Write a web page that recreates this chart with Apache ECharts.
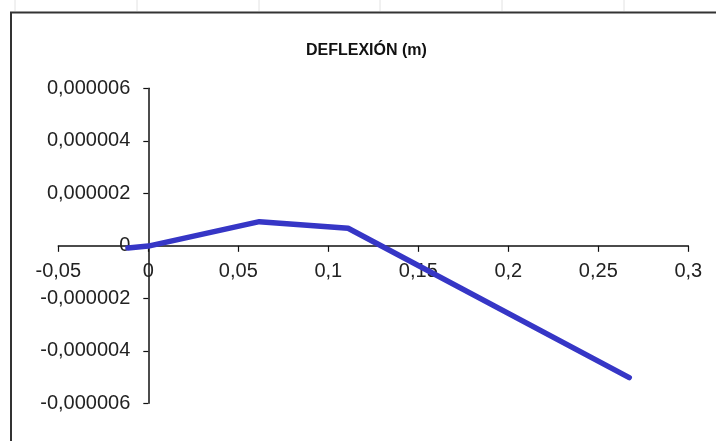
<!DOCTYPE html>
<html>
<head>
<meta charset="utf-8">
<style>
  html, body { margin: 0; padding: 0; background: #fff; }
  #chart { width: 716px; height: 441px; }
</style>
<script src="https://cdn.jsdelivr.net/npm/echarts@6/dist/echarts.min.js"></script>
</head>
<body>
<div id="chart"></div>
<script>
// Beam position (m) and deflection (m)
const positions = [-0.0113, 0, 0.0617, 0.111, 0.2672];
const deflections = [-0.00000008, -0.00000001, 0.00000092, 0.00000067, -0.00000502];

const xTicks = { min: -0.05, max: 0.3, step: 0.05 };
const yTicks = { min: -0.000006, max: 0.000006, step: 0.000002 };
const titleText = 'DEFLEXIÓN (m)';

const font = "'Liberation Sans', Arial, sans-serif";
const W = 716, H = 441;
const grid = { left: 58.3, right: 27.7, top: 88.3, bottom: 37.7 };

// the axes cross at zero: shift each axis in from the grid edge to its zero position
const plotW = W - grid.left - grid.right;
const plotH = H - grid.top - grid.bottom;
const xAxisShift = -plotH * (0 - yTicks.min) / (yTicks.max - yTicks.min);
const yAxisShift = -plotW * (0 - xTicks.min) / (xTicks.max - xTicks.min);

const chart = echarts.init(document.getElementById('chart'), null, { renderer: 'canvas' });

function commaNum(v, digits) {
  if (Math.abs(v) < 1e-12) return '0';
  return String(parseFloat(v.toFixed(digits))).replace('.', ',');
}
function commaFixed(v, digits) {
  if (Math.abs(v) < 1e-12) return '0';
  return v.toFixed(digits).replace('.', ',');
}

// faint spreadsheet column marks above the chart frame
const colMarks = [15, 137, 259, 380, 502, 624].map(x => ({
  type: 'line',
  shape: { x1: x, y1: 0, x2: x, y2: 11 },
  style: { stroke: '#e2e2e2', lineWidth: 1 },
  silent: true
}));

chart.setOption({
  backgroundColor: '#ffffff',
  animation: false,
  title: {
    text: titleText,
    left: 306,
    top: 43,
    padding: 0,
    textStyle: { fontFamily: font, fontSize: 16, fontWeight: 'bold', color: '#111' }
  },
  graphic: [
    {
      type: 'rect',
      shape: { x: 11, y: 12.5, width: 740, height: 460 },
      style: { fill: 'none', stroke: '#333333', lineWidth: 2 },
      silent: true
    }
  ].concat(colMarks),
  grid: {
    left: grid.left, right: grid.right, top: grid.top, bottom: grid.bottom,
    containLabel: false,
    outerBoundsMode: 'none'
  },
  xAxis: {
    type: 'value',
    position: 'bottom',
    offset: xAxisShift,
    min: xTicks.min,
    max: xTicks.max,
    interval: xTicks.step,
    axisLine: { onZero: false, lineStyle: { color: '#111', width: 1.5 } },
    axisTick: { show: true, inside: false, length: 6, lineStyle: { color: '#111', width: 1.2 } },
    axisLabel: {
      margin: 16,
      fontFamily: font,
      fontSize: 20,
      color: '#222',
      formatter: v => commaNum(v, 2)
    },
    splitLine: { show: false }
  },
  yAxis: {
    type: 'value',
    position: 'left',
    offset: yAxisShift,
    min: yTicks.min,
    max: yTicks.max,
    interval: yTicks.step,
    axisLine: { show: true, onZero: false, lineStyle: { color: '#111', width: 1.5 } },
    axisTick: { show: true, inside: false, length: 5, lineStyle: { color: '#111', width: 1.2 } },
    axisLabel: {
      margin: 18,
      fontFamily: font,
      fontSize: 20,
      color: '#222',
      formatter: v => commaFixed(v, 6)
    },
    splitLine: { show: false }
  },
  series: [
    {
      type: 'line',
      data: positions.map((x, i) => [x, deflections[i]]),
      showSymbol: false,
      symbol: 'none',
      lineStyle: { color: '#3636c6', width: 5.5, cap: 'round', join: 'round' },
      z: 1
    }
  ]
});
</script>
</body>
</html>
